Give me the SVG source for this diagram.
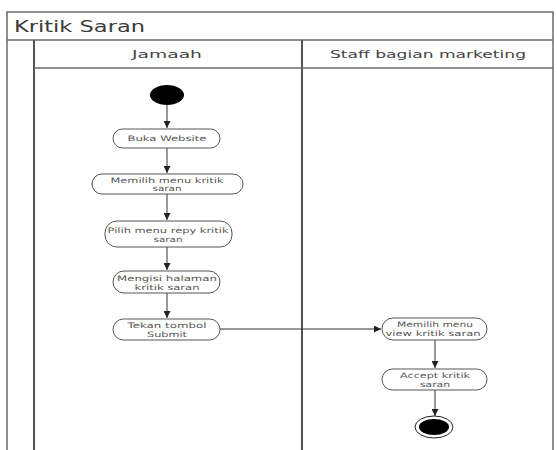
<svg xmlns="http://www.w3.org/2000/svg" width="557" height="450" viewBox="0 0 557 450">
  <style>
    .frame { fill: none; stroke: #6b6b6b; stroke-width: 1.5; }
    .lane { fill: none; stroke: #555; stroke-width: 2; }
    .title { font-family: "DejaVu Sans", sans-serif; font-size: 15px; fill: #3a3a3a; }
    .head { font-family: "DejaVu Sans", sans-serif; font-size: 10.5px; fill: #444; text-anchor: middle; }
    .act rect { fill: #fff; stroke: #555; stroke-width: 1; }
    .act text { font-family: "DejaVu Sans", sans-serif; font-size: 7.5px; fill: #555; text-anchor: middle; }
    .flow path { fill: none; stroke: #333; stroke-width: 1; marker-end: url(#arrow); }
  </style>
  <defs>
    <marker id="arrow" viewBox="0 0 10 10" refX="10" refY="5" markerWidth="7" markerHeight="7" markerUnits="userSpaceOnUse" orient="auto">
      <path d="M0,0 L10,5 L0,10 z" fill="#222"/>
    </marker>
  </defs>
  <rect width="557" height="450" fill="#fff"/>

  <!-- swimlane frame -->
  <g id="swimlanes">
    <path class="frame" d="M7,450 V12 H553 V450"/>
    <line class="frame" x1="7" y1="40" x2="553" y2="40"/>
    <text class="title" x="14" y="32" textLength="131" lengthAdjust="spacingAndGlyphs">Kritik Saran</text>
    <line class="lane" x1="34" y1="40" x2="34" y2="450"/>
    <line class="lane" x1="302" y1="40" x2="302" y2="450"/>
    <line class="frame" x1="34" y1="68" x2="553" y2="68"/>
    <text class="head" x="167" y="58" textLength="70" lengthAdjust="spacingAndGlyphs">Jamaah</text>
    <text class="head" x="428" y="58" textLength="196" lengthAdjust="spacingAndGlyphs">Staff bagian marketing</text>
  </g>

  <!-- connectors -->
  <g id="connectors" class="flow">
    <path d="M167,105 V128"/>
    <path d="M167,148 V173"/>
    <path d="M167,194 V220"/>
    <path d="M167,247 V270"/>
    <path d="M167,293 V318"/>
    <path d="M220,329 H381"/>
    <path d="M435,340 V368"/>
    <path d="M435,390 V416"/>
  </g>

  <g id="start">
    <ellipse cx="167" cy="95" rx="17" ry="10" fill="#000"/>
  </g>

  <g id="buka-website" class="act">
    <rect x="113" y="129" width="107" height="19" rx="9.5"/>
    <text x="167" y="141" textLength="79" lengthAdjust="spacingAndGlyphs">Buka Website</text>
  </g>

  <g id="memilih-menu-kritik" class="act">
    <rect x="92" y="174" width="151" height="20" rx="10"/>
    <text x="167" y="182.5" textLength="113" lengthAdjust="spacingAndGlyphs">Memilih menu kritik</text>
    <text x="167" y="191" textLength="29" lengthAdjust="spacingAndGlyphs">saran</text>
  </g>

  <g id="pilih-menu-reply" class="act">
    <rect x="105" y="221" width="127" height="26" rx="12"/>
    <text x="168" y="232.5" textLength="121" lengthAdjust="spacingAndGlyphs">Pilih menu repy kritik</text>
    <text x="168" y="241.5" textLength="29" lengthAdjust="spacingAndGlyphs">saran</text>
  </g>

  <g id="mengisi-halaman" class="act">
    <rect x="113" y="271" width="107" height="22" rx="11"/>
    <text x="167" y="280.5" textLength="100" lengthAdjust="spacingAndGlyphs">Mengisi halaman</text>
    <text x="167" y="289.5" textLength="65" lengthAdjust="spacingAndGlyphs">kritik saran</text>
  </g>

  <g id="tekan-submit" class="act">
    <rect x="113" y="319" width="107" height="21" rx="10.5"/>
    <text x="167" y="328" textLength="79" lengthAdjust="spacingAndGlyphs">Tekan tombol</text>
    <text x="167" y="337" textLength="40" lengthAdjust="spacingAndGlyphs">Submit</text>
  </g>

  <g id="view-kritik" class="act">
    <rect x="382" y="318" width="105" height="22" rx="11"/>
    <text x="435" y="327" textLength="76" lengthAdjust="spacingAndGlyphs">Memilih menu</text>
    <text x="433" y="336" textLength="95" lengthAdjust="spacingAndGlyphs">view kritik saran</text>
  </g>

  <g id="accept-kritik" class="act">
    <rect x="382" y="369" width="105" height="21" rx="10.5"/>
    <text x="435" y="378" textLength="70" lengthAdjust="spacingAndGlyphs">Accept kritik</text>
    <text x="435" y="387" textLength="30" lengthAdjust="spacingAndGlyphs">saran</text>
  </g>

  <g id="end">
    <ellipse cx="434" cy="427" rx="19" ry="11" fill="#fff" stroke="#222" stroke-width="1"/>
    <ellipse cx="434" cy="427" rx="15" ry="8" fill="#000"/>
  </g>
</svg>
